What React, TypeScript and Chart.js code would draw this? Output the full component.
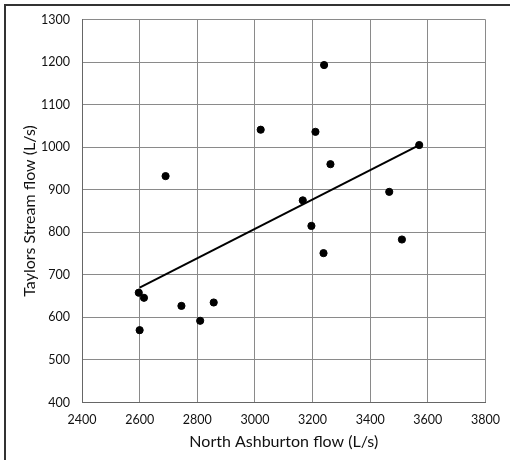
import React, { useEffect, useRef } from "react";
import { Chart, registerables } from "chart.js";

Chart.register(...registerables);

const northAshburton = [3240, 3020, 3210, 3570, 2690, 3262, 3466, 3166, 3196, 3238, 3510, 2597, 2615, 2600, 2745, 2810, 2857];
const taylorsStream = [1193, 1041, 1036, 1005, 932, 960, 895, 875, 815, 751, 783, 658, 646, 570, 627, 592, 635];
const trendX = [2600, 3570];
const trendY = [670, 1005];
const xTicks = [2400, 2600, 2800, 3000, 3200, 3400, 3600, 3800];
const yTicks = [400, 500, 600, 700, 800, 900, 1000, 1100, 1200, 1300];

const FONT = "Lato, 'Open Sans', sans-serif";

export default function App() {
  const ref = useRef<HTMLCanvasElement | null>(null);

  useEffect(() => {
    if (!ref.current) return;
    const points = northAshburton.map((x, i) => ({ x, y: taylorsStream[i] }));
    const trend = trendX.map((x, i) => ({ x, y: trendY[i] }));
    const chart = new Chart(ref.current, {
      type: "scatter",
      data: {
        datasets: [
          {
            label: "Flow",
            data: points,
            backgroundColor: "#000",
            borderColor: "#000",
            pointRadius: 3.6,
            pointHoverRadius: 3.6,
          },
          {
            label: "Trend",
            data: trend,
            showLine: true,
            borderColor: "#000",
            borderWidth: 2,
            pointRadius: 0,
            pointHoverRadius: 0,
          } as any,
        ],
      },
      options: {
        responsive: false,
        animation: false,
        layout: { padding: { left: 0, top: 18, right: 23, bottom: 0 } },
        plugins: {
          legend: { display: false },
          tooltip: { enabled: false },
        },
        scales: {
          x: {
            type: "linear",
            min: 2400,
            max: 3800,
            afterBuildTicks: (s: any) => {
              s.ticks = xTicks.map((v) => ({ value: v }));
            },
            afterFit: (s: any) => {
              s.height = 57.5;
            },
            grid: { color: "#8a8a8a", lineWidth: 1, drawTicks: false },
            border: { color: "#666", width: 1 },
            ticks: {
              color: "#111",
              font: { family: FONT, size: 12.5 },
              padding: 10,
              maxRotation: 0,
              callback: (v: any) => String(v),
            },
            title: {
              display: true,
              text: "North Ashburton flow (L/s)",
              color: "#111",
              font: { family: FONT, size: 16 },
              padding: { top: 0, bottom: 9 },
            },
          },
          y: {
            type: "linear",
            min: 400,
            max: 1300,
            afterBuildTicks: (s: any) => {
              s.ticks = yTicks.map((v) => ({ value: v }));
            },
            afterFit: (s: any) => {
              s.width = 82;
            },
            grid: { color: "#8a8a8a", lineWidth: 1, drawTicks: false },
            border: { color: "#666", width: 1 },
            ticks: {
              color: "#111",
              font: { family: FONT, size: 12.5 },
              padding: 12,
              callback: (v: any) => String(v),
            },
            title: {
              display: true,
              text: "Taylors Stream flow (L/s)",
              color: "#111",
              font: { family: FONT, size: 16 },
              padding: { top: 20, bottom: 0 },
            },
          },
        },
      },
    });
    return () => chart.destroy();
  }, []);

  return (
    <div
      style={{
        position: "fixed",
        left: 0,
        top: 0,
        width: 510,
        height: 460,
        overflow: "hidden",
        background: "#fff",
      }}
    >
      <canvas ref={ref} width={510} height={460} style={{ position: "absolute", left: 0, top: 0, width: 510, height: 460 }} />
      <div
        style={{
          position: "absolute",
          left: 4,
          top: 4,
          width: 700,
          height: 700,
          borderLeft: "2px solid #333",
          borderTop: "2px solid #333",
          pointerEvents: "none",
        }}
      />
    </div>
  );
}
